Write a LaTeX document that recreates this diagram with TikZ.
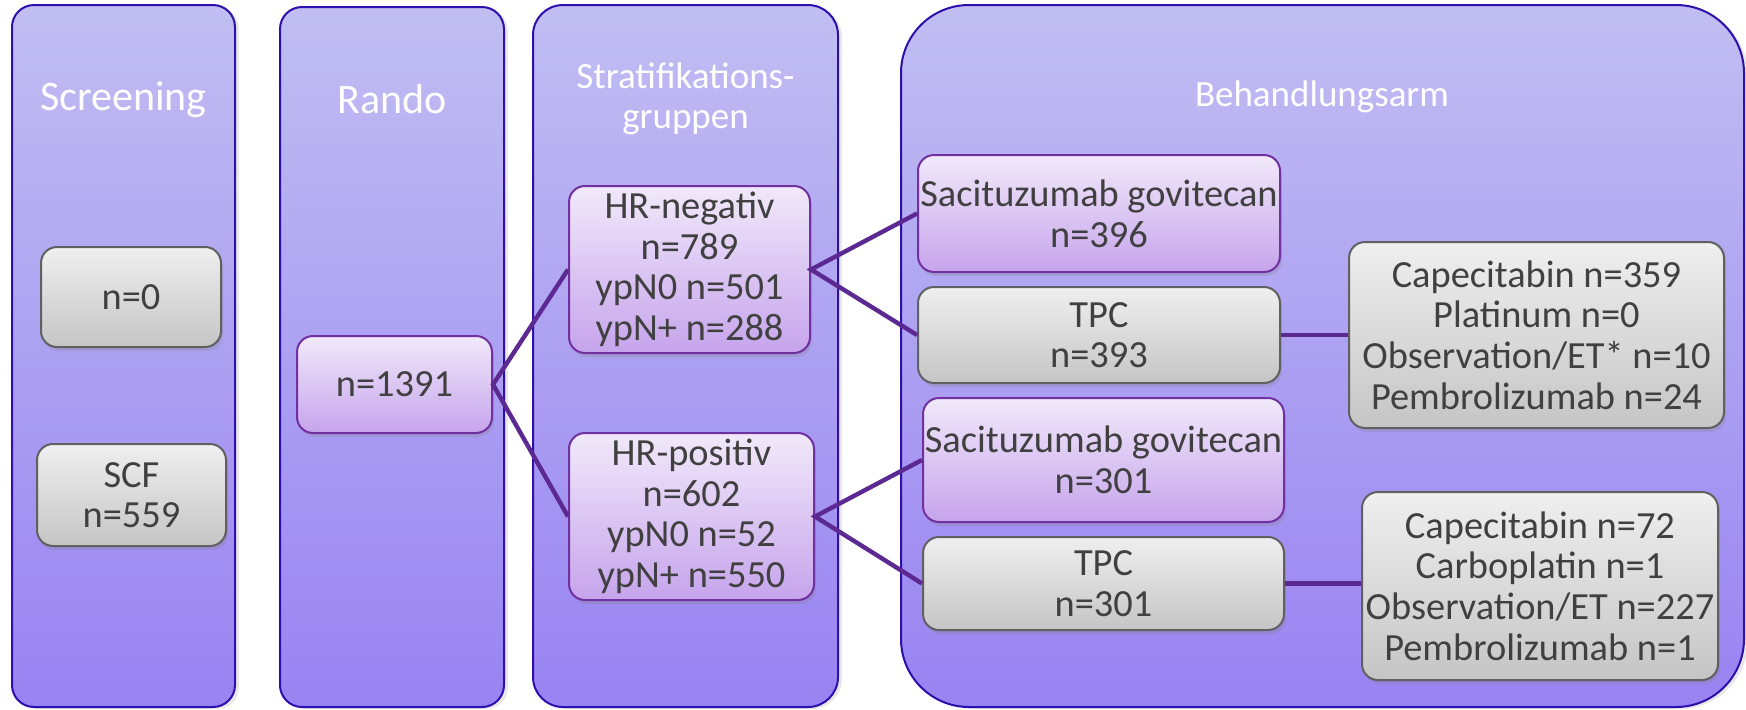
\documentclass[tikz,border=0pt]{standalone}
\usepackage{fontspec}
\setmainfont{Carlito}
\usetikzlibrary{shadows}
\definecolor{colTop}{RGB}{193,190,242}
\definecolor{colMid}{RGB}{178,168,242}
\definecolor{colBot}{RGB}{152,131,242}
\definecolor{colLine}{RGB}{46,14,172}
\definecolor{boxTop}{RGB}{241,233,250}
\definecolor{boxBot}{RGB}{198,164,236}
\definecolor{boxLine}{RGB}{112,48,160}
\definecolor{greyTop}{RGB}{239,239,239}
\definecolor{greyBot}{RGB}{197,197,197}
\definecolor{greyLine}{RGB}{96,96,96}
\definecolor{textGrey}{RGB}{64,64,64}
\definecolor{linkCol}{RGB}{92,40,145}
\tikzset{column/.style={draw=colLine, line width=1pt, top color=colTop,
           middle color=colMid, bottom color=colBot,
           drop shadow={opacity=0.18, shadow xshift=2pt, shadow yshift=-1pt}},
         title/.style={text=white, font=\fontsize{21}{24}\selectfont, inner sep=0pt},
         subtitle/.style={text=white, align=center, inner sep=0pt,
           font=\fontsize{18.5}{20}\selectfont},
         armbox/.style={rounded corners=8pt, line width=1pt, text=textGrey,
           align=center, inner sep=0pt, font=\fontsize{19.2}{20.3}\selectfont,
           drop shadow={opacity=0.25, shadow xshift=1pt, shadow yshift=-2pt}},
         purplebox/.style={armbox, draw=boxLine, top color=boxTop, bottom color=boxBot},
         greybox/.style={armbox, draw=greyLine, top color=greyTop, bottom color=greyBot},
         link/.style={draw=linkCol, line width=2.2pt}}

\begin{document}
\begin{tikzpicture}[x=0.5pt, y=-0.5pt]
    \useasboundingbox (0,0) rectangle (1746,709);
    % the four columns
    \draw[column, rounded corners=11pt] (12,5) rectangle (235,707);
    \draw[column, rounded corners=11pt] (280,7) rectangle (504,707);
    \draw[column, rounded corners=15pt] (533,5) rectangle (838,707);
    \draw[column, rounded corners=34pt] (901,5) rectangle (1744,707);
    \node[title, anchor=base] (tscreen) at (123.5,110) {Screening};
    \node[title, anchor=base] (trando) at (392,113) {Rando};
    \node[subtitle] (tstrat) at (685.5,99) {Stratifikations-\\gruppen};
    \node[subtitle, anchor=base] (tarm) at (1322,106) {Behandlungsarm};

    \node[greybox, minimum width=90pt, minimum height=50pt] (nscreen) at (131,297) {n=0};
    \node[greybox, minimum width=94.5pt, minimum height=51pt] (scf) at (131.5,495) {SCF\\n=559};
    \node[purplebox, minimum width=97.5pt, minimum height=48.5pt] (rand) at (394.5,384.5) {n=1391};
    \node[purplebox, minimum width=120.5pt, minimum height=83.5pt] (hrneg) at (689.5,269.5)
      {HR-negativ\\n=789\\ypN0 n=501\\ypN+ n=288};
    \node[purplebox, minimum width=122.5pt, minimum height=83.5pt] (hrpos) at (691.5,516.5)
      {HR-positiv\\n=602\\ypN0 n=52\\ypN+ n=550};
    \node[purplebox, minimum width=181pt, minimum height=58.5pt] (sacineg) at (1099,213.5)
      {Sacituzumab govitecan\\n=396};
    \node[greybox, minimum width=181pt, minimum height=48pt] (tpcneg) at (1099,335) {TPC\\n=393};
    \node[purplebox, minimum width=180.5pt, minimum height=62pt] (sacipos) at (1103.5,460)
      {Sacituzumab govitecan\\n=301};
    \node[greybox, minimum width=180.5pt, minimum height=46.5pt] (tpcpos) at (1103.5,583.5) {TPC\\n=301};
    \node[greybox, minimum width=187.5pt, minimum height=93pt] (capneg) at (1536.5,335)
      {Capecitabin n=359\\Platinum n=0\\Observation/ET* n=10\\Pembrolizumab n=24};
    \node[greybox, minimum width=178pt, minimum height=94pt] (cappos) at (1540,586)
      {Capecitabin n=72\\Carboplatin n=1\\Observation/ET n=227\\Pembrolizumab n=1};

    % connectors
    \draw[link] (hrneg.west) -- (rand.east) -- (hrpos.west);
    \draw[link] (sacineg.west) -- (hrneg.east) -- (tpcneg.west);
    \draw[link] (sacipos.west) -- (hrpos.east) -- (tpcpos.west);
    \draw[link] (tpcneg.east) -- (tpcneg.east -| capneg.west);
    \draw[link] (tpcpos.east) -- (tpcpos.east -| cappos.west);
\end{tikzpicture}
\end{document}
